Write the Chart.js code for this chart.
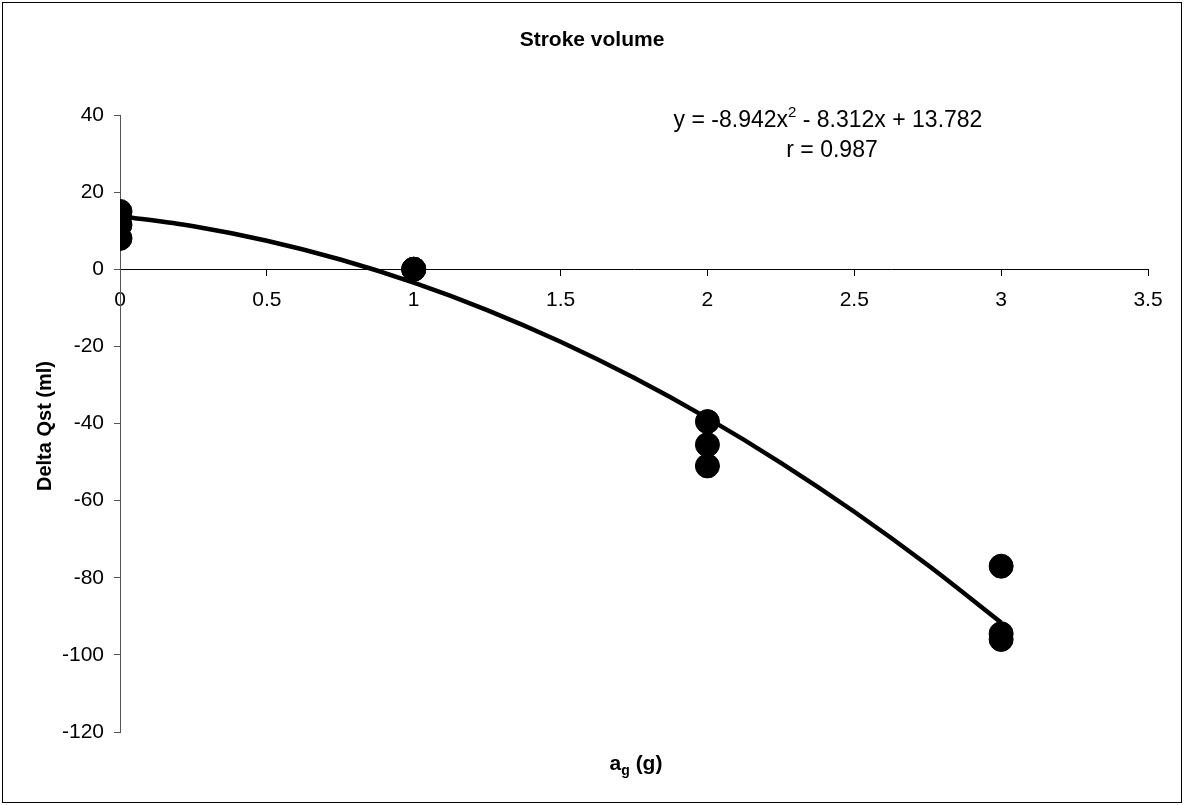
<!DOCTYPE html>
<html>
<head>
<meta charset="utf-8">
<script src="https://cdn.jsdelivr.net/npm/chart.js@4.4.1/dist/chart.umd.min.js"></script>
<style>
html,body{margin:0;padding:0;background:#fff;}
#wrap{width:1184px;height:805px;}
</style>
</head>
<body>
<div id="wrap"><canvas id="c" width="1184" height="805"></canvas></div>
<script>
// Observed data (a_g in g, Delta Qst in ml)
const obsX = [0, 0, 0, 1, 1, 1, 2, 2, 2, 3, 3, 3];
const obsY = [15, 11.5, 8, 0, 0, 0, -39.5, -45.5, -51, -77, -94.5, -96];

// Trendline points
const trendX = [0, 0.25, 0.5, 0.75, 1, 1.25, 1.5, 1.75, 2, 2.25, 2.5, 2.75, 3];
const trendY = [13.78, 11.15, 7.39, 2.52, -3.47, -10.58, -18.81, -28.15, -38.61, -50.19, -62.89, -76.70, -91.63];

// Axis ticks
const xTicks = [0, 0.5, 1, 1.5, 2, 2.5, 3, 3.5];
const yTicks = [-120, -100, -80, -60, -40, -20, 0, 20, 40];

const chartTitle = 'Stroke volume';
const yTitle = 'Delta Qst (ml)';
const eqLine1a = 'y = -8.942x';
const eqSup = '2';
const eqLine1b = ' - 8.312x + 13.782';
const eqLine2 = 'r = 0.987';

const FONT = '"Liberation Sans", Arial, sans-serif';

const decor = {
  id: 'decor',
  afterDraw(chart) {
    const ctx = chart.ctx;
    ctx.save();
    // outer border
    ctx.strokeStyle = '#000';
    ctx.lineWidth = 1;
    ctx.strokeRect(2.5, 2.5, 1179, 800);
    ctx.fillStyle = '#000';
    // title
    ctx.font = 'bold 21px ' + FONT;
    ctx.textAlign = 'center';
    ctx.textBaseline = 'middle';
    ctx.fillText(chartTitle, 592, 40);
    // y title
    ctx.save();
    ctx.translate(45, 426);
    ctx.rotate(-Math.PI / 2);
    ctx.font = 'bold 20px ' + FONT;
    ctx.fillText(yTitle, 0, 0);
    ctx.restore();
    // x title with subscript
    ctx.textAlign = 'left';
    ctx.textBaseline = 'alphabetic';
    const xa = chart.chartArea;
    const cx = (xa.left + xa.right) / 2;
    ctx.font = 'bold 21px ' + FONT;
    const wa = ctx.measureText('a').width;
    const wr = ctx.measureText(' (g)').width;
    ctx.font = 'bold 14px ' + FONT;
    const wg = ctx.measureText('g').width;
    const total = wa + wg + wr;
    let x0 = cx - total / 2 + 2;
    const by = 770;
    ctx.font = 'bold 21px ' + FONT;
    ctx.fillText('a', x0, by);
    ctx.font = 'bold 14px ' + FONT;
    ctx.fillText('g', x0 + wa, by + 5);
    ctx.font = 'bold 21px ' + FONT;
    ctx.fillText(' (g)', x0 + wa + wg, by);
    // equation
    ctx.font = '23px ' + FONT;
    const w1 = ctx.measureText(eqLine1a).width;
    const w3 = ctx.measureText(eqLine1b).width;
    ctx.font = '15px ' + FONT;
    const w2 = ctx.measureText(eqSup).width;
    const ex = 828 - (w1 + w2 + w3) / 2;
    ctx.font = '23px ' + FONT;
    ctx.fillText(eqLine1a, ex, 127);
    ctx.font = '15px ' + FONT;
    ctx.fillText(eqSup, ex + w1, 117);
    ctx.font = '23px ' + FONT;
    ctx.fillText(eqLine1b, ex + w1 + w2, 127);
    ctx.textAlign = 'center';
    ctx.fillText(eqLine2, 832, 157);
    ctx.restore();
  }
};

new Chart(document.getElementById('c'), {
  type: 'scatter',
  data: {
    datasets: [
      {
        label: 'Trend',
        type: 'line',
        data: trendX.map((x, i) => ({x: x, y: trendY[i]})),
        borderColor: '#000',
        borderWidth: 4.5,
        pointRadius: 0,
        fill: false,
        cubicInterpolationMode: 'monotone',
        order: 2
      },
      {
        label: 'Delta Qst',
        data: obsX.map((x, i) => ({x: x, y: obsY[i]})),
        backgroundColor: '#000',
        borderColor: '#000',
        pointRadius: 12,
        pointHoverRadius: 12,
        order: 1
      }
    ]
  },
  options: {
    responsive: false,
    animation: false,
    events: [],
    layout: { padding: { left: 0, right: 36, top: 115, bottom: 73 } },
    plugins: { legend: { display: false }, tooltip: { enabled: false }, title: { display: false } },
    scales: {
      x: {
        type: 'linear',
        position: { y: 0 },
        min: 0, max: 3.5,
        afterBuildTicks(s) { s.ticks = xTicks.map(v => ({value: v})); },
        ticks: {
          color: '#000',
          font: { family: FONT, size: 21 },
          padding: 12,
          maxRotation: 0,
          autoSkip: false,
          callback: v => String(v)
        },
        grid: { drawOnChartArea: false, drawTicks: true, tickLength: 6, color: '#000' },
        border: { display: true, color: '#000', width: 1 }
      },
      y: {
        type: 'linear',
        min: -120, max: 40,
        afterBuildTicks(s) { s.ticks = yTicks.map(v => ({value: v})); },
        afterFit(s) { s.width = 120; },
        ticks: {
          color: '#000',
          font: { family: FONT, size: 21 },
          padding: 10,
          autoSkip: false,
          callback: v => String(v)
        },
        grid: { drawOnChartArea: false, drawTicks: true, tickLength: 6, color: '#555' },
        border: { display: true, color: '#555', width: 1 }
      }
    }
  },
  plugins: [decor]
});
</script>
</body>
</html>
